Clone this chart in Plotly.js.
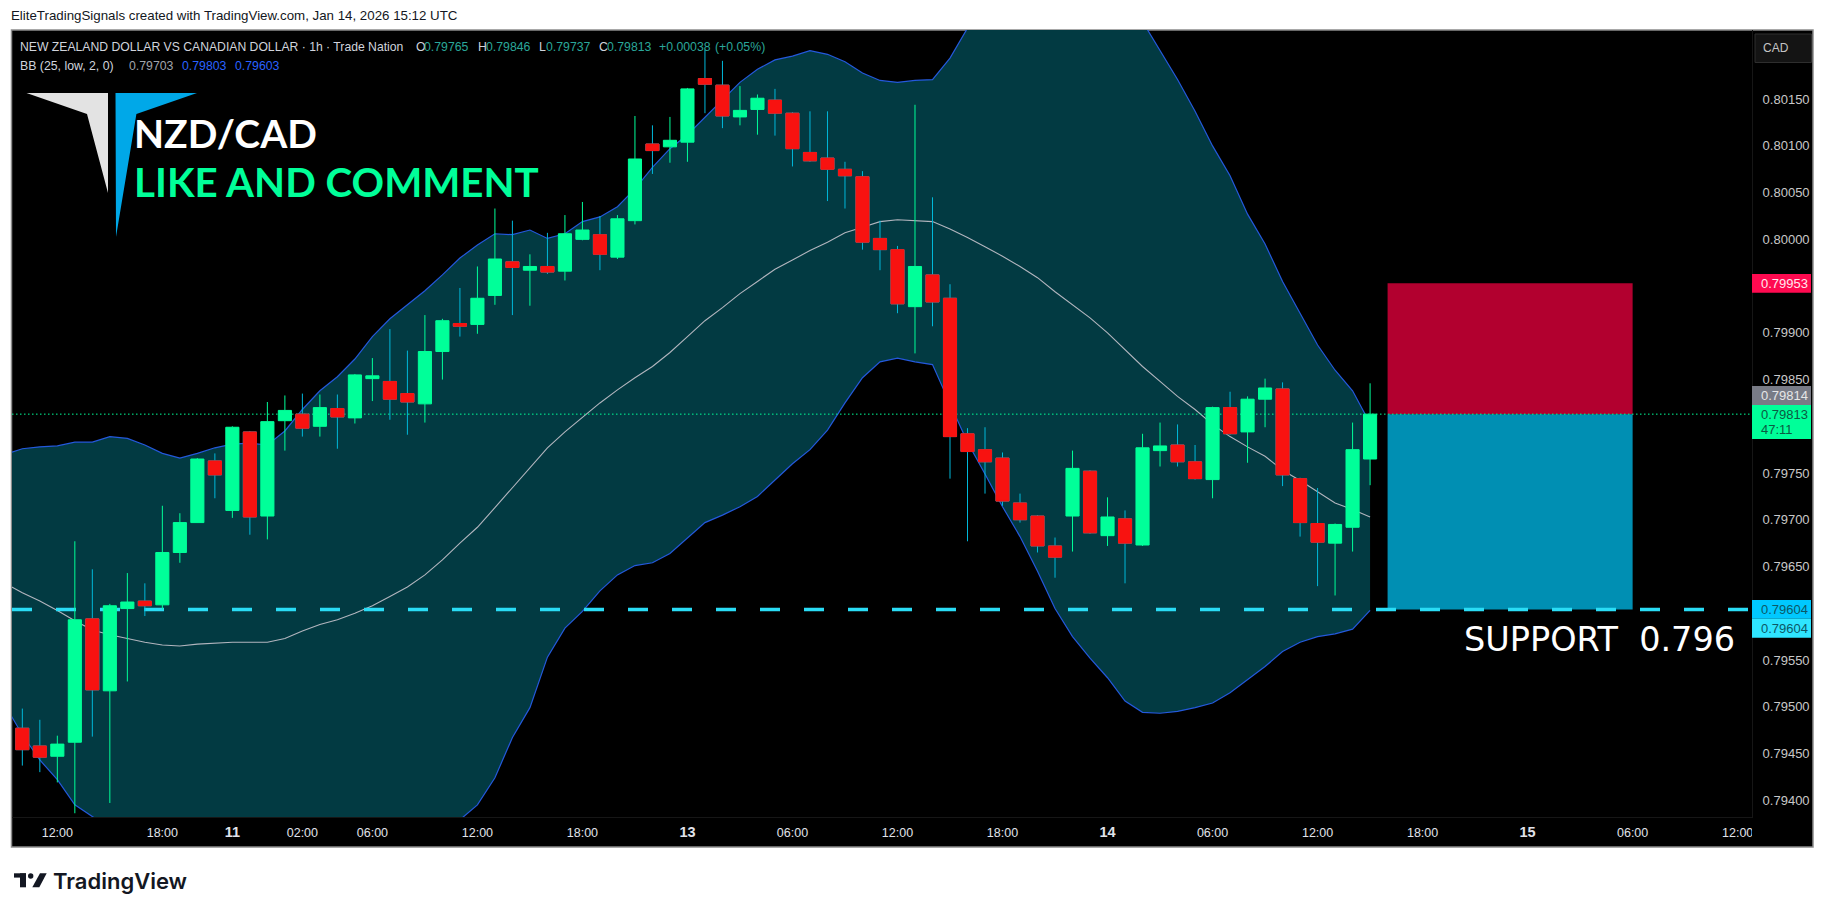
<!DOCTYPE html>
<html>
<head>
<meta charset="utf-8">
<script src="https://cdn.plot.ly/plotly-3.0.1.min.js"></script>
<style>html,body{margin:0;padding:0;background:#fff}#chart{width:1825px;height:914px}</style>
</head>
<body>
<div id="chart"></div>
<script>
// Hourly bars, NZD/CAD (index = bar number, weekend gap removed)
const open_ = [0.79477,0.79458,0.79447,0.79462,0.79594,0.79517,0.79605,0.79613,0.79609,0.79665,0.79697,0.79763,0.79710,0.79794,0.79704,0.79806,0.79813,0.79800,0.79819,0.79809,0.79851,0.79848,0.79835,0.79824,0.79880,0.79910,0.79909,0.79940,0.79976,0.79967,0.79971,0.79966,0.80000,0.80005,0.79981,0.80020,0.80102,0.80099,0.80104,0.80172,0.80165,0.80131,0.80139,0.80149,0.80135,0.80093,0.80087,0.80075,0.80067,0.80001,0.79989,0.79928,0.79962,0.79937,0.79792,0.79775,0.79766,0.79718,0.79704,0.79672,0.79704,0.79752,0.79683,0.79701,0.79673,0.79774,0.79780,0.79762,0.79743,0.79820,0.79794,0.79829,0.79840,0.79744,0.79696,0.79675,0.79692,0.79765];
const high_ = [0.79498,0.79486,0.79469,0.79677,0.79647,0.79610,0.79643,0.79632,0.79715,0.79707,0.79766,0.79771,0.79800,0.79795,0.79826,0.79833,0.79835,0.79834,0.79834,0.79856,0.79873,0.79904,0.79881,0.79919,0.79915,0.79948,0.79971,0.80033,0.80020,0.79984,0.80007,0.80026,0.80040,0.80025,0.80026,0.80132,0.80122,0.80131,0.80162,0.80203,0.80191,0.80164,0.80155,0.80161,0.80136,0.80137,0.80137,0.80083,0.80073,0.80020,0.79993,0.80144,0.80045,0.79952,0.79798,0.79799,0.79772,0.79728,0.79705,0.79681,0.79774,0.79753,0.79724,0.79710,0.79792,0.79804,0.79802,0.79780,0.79821,0.79837,0.79832,0.79851,0.79847,0.79745,0.79734,0.79696,0.79804,0.79846];
const low_ = [0.79437,0.79430,0.79419,0.79386,0.79468,0.79397,0.79527,0.79597,0.79604,0.79654,0.79697,0.79723,0.79702,0.79684,0.79679,0.79774,0.79789,0.79789,0.79776,0.79803,0.79827,0.79807,0.79791,0.79804,0.79850,0.79896,0.79899,0.79930,0.79919,0.79929,0.79963,0.79956,0.79999,0.79967,0.79979,0.80016,0.80070,0.80082,0.80083,0.80135,0.80119,0.80122,0.80112,0.80111,0.80078,0.80083,0.80041,0.80033,0.79989,0.79967,0.79921,0.79878,0.79907,0.79744,0.79677,0.79728,0.79715,0.79697,0.79665,0.79638,0.79666,0.79685,0.79672,0.79632,0.79672,0.79757,0.79757,0.79743,0.79723,0.79791,0.79761,0.79799,0.79736,0.79682,0.79629,0.79619,0.79666,0.79737];
const close_ = [0.79454,0.79446,0.79460,0.79593,0.79518,0.79608,0.79612,0.79608,0.79665,0.79697,0.79765,0.79748,0.79799,0.79703,0.79805,0.79817,0.79798,0.79820,0.79810,0.79855,0.79854,0.79829,0.79826,0.79880,0.79913,0.79907,0.79937,0.79979,0.79970,0.79971,0.79965,0.80006,0.80010,0.79984,0.80022,0.80086,0.80095,0.80106,0.80161,0.80166,0.80132,0.80138,0.80151,0.80135,0.80097,0.80084,0.80075,0.80068,0.79997,0.79989,0.79931,0.79971,0.79933,0.79789,0.79773,0.79762,0.79720,0.79700,0.79672,0.79660,0.79755,0.79686,0.79703,0.79675,0.79777,0.79779,0.79762,0.79744,0.79820,0.79792,0.79829,0.79841,0.79748,0.79697,0.79676,0.79695,0.79775,0.79813];

// Bollinger Bands (25, low, 2, 0); first value is the bar before the first visible one
const bbUpper = [0.79770,0.79776,0.79778,0.79779,0.79783,0.79783,0.79789,0.79787,0.79780,0.79771,0.79766,0.79771,0.79777,0.79781,0.79782,0.79780,0.79795,0.79818,0.79838,0.79853,0.79872,0.79896,0.79915,0.79930,0.79945,0.79962,0.79980,0.79994,0.80006,0.80005,0.80010,0.80001,0.80006,0.80019,0.80024,0.80035,0.80054,0.80077,0.80097,0.80112,0.80131,0.80150,0.80168,0.80182,0.80192,0.80196,0.80202,0.80198,0.80190,0.80178,0.80170,0.80168,0.80170,0.80171,0.80194,0.80226,0.80256,0.80283,0.80304,0.80315,0.80320,0.80320,0.80310,0.80294,0.80265,0.80233,0.80202,0.80171,0.80137,0.80100,0.80068,0.80027,0.79995,0.79955,0.79921,0.79887,0.79860,0.79838,0.79803];
const bbMiddle = [0.79632,0.79622,0.79613,0.79603,0.79592,0.79582,0.79577,0.79573,0.79569,0.79566,0.79565,0.79567,0.79568,0.79569,0.79569,0.79569,0.79573,0.79581,0.79588,0.79593,0.79600,0.79608,0.79618,0.79628,0.79641,0.79657,0.79675,0.79692,0.79713,0.79734,0.79756,0.79777,0.79794,0.79810,0.79825,0.79839,0.79852,0.79864,0.79879,0.79896,0.79913,0.79927,0.79942,0.79955,0.79968,0.79978,0.79988,0.79997,0.80007,0.80013,0.80019,0.80021,0.80020,0.80019,0.80011,0.80002,0.79992,0.79982,0.79971,0.79959,0.79944,0.79930,0.79916,0.79900,0.79882,0.79864,0.79848,0.79832,0.79818,0.79802,0.79789,0.79778,0.79768,0.79753,0.79742,0.79730,0.79718,0.79711,0.79703];
const bbLower = [0.79502,0.79470,0.79443,0.79422,0.79395,0.79382,0.79370,0.79355,0.79345,0.79335,0.79330,0.79325,0.79322,0.79320,0.79320,0.79322,0.79325,0.79330,0.79335,0.79340,0.79345,0.79350,0.79355,0.79360,0.79365,0.79370,0.79379,0.79395,0.79424,0.79467,0.79499,0.79553,0.79584,0.79602,0.79624,0.79641,0.79651,0.79654,0.79664,0.79681,0.79697,0.79705,0.79714,0.79725,0.79743,0.79760,0.79775,0.79796,0.79825,0.79852,0.79869,0.79873,0.79869,0.79866,0.79824,0.79783,0.79749,0.79714,0.79682,0.79645,0.79605,0.79575,0.79552,0.79531,0.79506,0.79494,0.79493,0.79495,0.79499,0.79504,0.79515,0.79529,0.79543,0.79559,0.79569,0.79575,0.79578,0.79583,0.79603];

// Levels
const lastPrice = 0.79813;
const supportLevel = 0.79604;
const stopLevel = 0.79953;
const tradeStartBar = 78, tradeEndBar = 92;

// Axis ticks
const bigDay = d => '<span style="font-size:14.5px"><b>'+d+'</b></span>';
const xTickBars = [2,8,12,16,20,26,32,38,44,50,56,62,68,74,80,86,92,98];
const xTickLabels = ['12:00','18:00',bigDay('11'),'02:00','06:00','12:00','18:00',bigDay('13'),'06:00','12:00','18:00',bigDay('14'),'06:00','12:00','18:00',bigDay('15'),'06:00','12:00'];
const yTickValues = [0.8015,0.801,0.8005,0.8,0.799,0.7985,0.7975,0.797,0.7965,0.7955,0.795,0.7945,0.794];
const yTickLabels = ['0.80150','0.80100','0.80050','0.80000','0.79900','0.79850','0.79750','0.79700','0.79650','0.79550','0.79500','0.79450','0.79400'];

// Page geometry
const PW=1825, PH=914, L=12, T=30, R=1752, B=817;
const px = v => (v-L)/(R-L), py = v => 1-(v-T)/(B-T);
const bars = open_.map((_,i)=>i);
const bandX = bbUpper.map((_,i)=>i-1);
const xEdges = [-0.59, 98.82];
const yEdges = [0.79382, 0.80224];

const GREEN='#00FF99', RED='#F81210', WICK='#00B8D9', BAND='#023A42', BANDLINE='#2459DC';
const redIdx = bars.filter(i=>close_[i]<open_[i]);

const traces = [
  {type:'scatter',mode:'lines',x:bandX,y:bbLower,line:{color:BANDLINE,width:1.2},hoverinfo:'skip'},
  {type:'scatter',mode:'lines',x:bandX,y:bbUpper,line:{color:BANDLINE,width:1.2},fill:'tonexty',fillcolor:BAND,hoverinfo:'skip'},
  {type:'scatter',mode:'lines',x:bandX,y:bbMiddle,line:{color:'#B2B5BE',width:1.1},hoverinfo:'skip'},
  {type:'scatter',mode:'lines',x:xEdges,y:[supportLevel,supportLevel],line:{color:'#2ADCF5',width:3.4,dash:'20px,24px'},hoverinfo:'skip'},
  {type:'scatter',mode:'lines',x:xEdges,y:[lastPrice,lastPrice],line:{color:GREEN,width:1,dash:'1.5px,2.5px'},hoverinfo:'skip'},
  // candles sit on overlaying axes so that they are drawn above the band fill
  {type:'candlestick',xaxis:'x2',yaxis:'y2',x:bars,open:open_,high:high_,low:low_,close:close_,whiskerwidth:0,
    increasing:{line:{color:GREEN,width:1},fillcolor:GREEN},
    decreasing:{line:{color:WICK,width:1},fillcolor:WICK},hoverinfo:'skip'},
  // red bodies over the cyan wicks of the falling bars
  {type:'candlestick',xaxis:'x2',yaxis:'y2',x:redIdx,open:redIdx.map(i=>open_[i]),close:redIdx.map(i=>close_[i]),
    high:redIdx.map(i=>open_[i]),low:redIdx.map(i=>close_[i]),whiskerwidth:0,
    increasing:{line:{color:RED,width:1},fillcolor:RED},
    decreasing:{line:{color:RED,width:1},fillcolor:RED},hoverinfo:'skip'}
];

const rectPx=(x0,y0,x1,y1,fill,layer,line)=>({type:'rect',xref:'paper',yref:'paper',x0:px(x0),x1:px(x1),y0:py(y0),y1:py(y1),
  fillcolor:fill,layer:layer||'above',line:line||{width:0}});
const polyPx=(pts,fill)=>({type:'path',xref:'paper',yref:'paper',layer:'above',fillcolor:fill,line:{width:0},
  path:'M'+pts.map(p=>px(p[0])+','+py(p[1])).join(' L')+' Z'});

const shapes = [
  rectPx(11.5,30,1813,847,'#000000','below',{color:'#8C8C8C',width:1.5}),
  {type:'rect',xref:'x',yref:'y',x0:tradeStartBar,x1:tradeEndBar,y0:lastPrice,y1:stopLevel,fillcolor:'#B2002F',line:{width:0},layer:'below'},
  {type:'rect',xref:'x',yref:'y',x0:tradeStartBar,x1:tradeEndBar,y0:supportLevel,y1:lastPrice,fillcolor:'#008FB3',line:{width:0},layer:'below'},
  // hides the part of the last time label that runs under the price scale
  rectPx(1752,818,1812,846,'#000000','above'),
  // logo
  polyPx([[26.5,93],[108,93],[108,193],[87,114]],'#E3E3E3'),
  polyPx([[115.5,93],[197,93],[136.4,114],[116,237]],'#00A8E8'),
  // price scale tags
  rectPx(1755,34,1811.5,62.5,'#141414','above',{color:'#2E2E2E',width:1}),
  rectPx(1752,274,1811,292.7,'#FF0A50'),
  rectPx(1752,386,1811,405,'#787B86'),
  rectPx(1752,405,1811,439,GREEN),
  rectPx(1752,600,1811,618.7,'#00C8FF'),
  rectPx(1752,618.7,1811,637.7,'#2FE5FF'),
  // TradingView mark
  rectPx(14,873.3,26,877.6,'#131722'),
  rectPx(20,873.3,26,887.3,'#131722'),
  {type:'circle',xref:'paper',yref:'paper',layer:'above',fillcolor:'#131722',line:{width:0},x0:px(28),x1:px(33.4),y0:py(873.3),y1:py(878.7)},
  polyPx([[40,873.3],[46.7,873.3],[39.3,887.3],[32.3,887.3]],'#131722')
];

const SMALL='Liberation Sans';
const txt=(x,y,text,size,color,extra)=>Object.assign({xref:'paper',yref:'paper',x:px(x),y:py(y),text:text,showarrow:false,
  xanchor:'left',yanchor:'middle',borderpad:0,font:{family:SMALL,size:size,color:color}},extra||{});
const VAL='#2AA79A', LAB='#D1D4DC', SCALE_DARK='#0C5866';
const annotations = [
  txt(10,16,'EliteTradingSignals created with TradingView.com, Jan 14, 2026 15:12 UTC',13.3,'#131722'),
  txt(19,46.7,'NEW ZEALAND DOLLAR VS CANADIAN DOLLAR · 1h · Trade Nation',12.2,LAB),
  txt(414.5,46.7,'O',12.3,LAB), txt(422.5,46.7,'0.79765',12.3,VAL),
  txt(476.5,46.7,'H',12.3,LAB), txt(484.5,46.7,'0.79846',12.3,VAL),
  txt(537.5,46.7,'L',12.3,LAB), txt(544.5,46.7,'0.79737',12.3,VAL),
  txt(597.5,46.7,'C',12.3,LAB), txt(605.5,46.7,'0.79813',12.3,VAL),
  txt(657.5,46.7,'+0.00038',12.3,VAL), txt(713.5,46.7,'(+0.05%)',12.3,VAL),
  txt(19,65.7,'BB (25, low, 2, 0)',12.3,LAB),
  txt(128.2,65.7,'0.79703',12.3,'#A0A4AC'), txt(181.2,65.7,'0.79803',12.3,'#2962FF'), txt(234.2,65.7,'0.79603',12.3,'#2962FF'),
  txt(133,133,'<b>NZD/CAD</b>',39,'#FFFFFF',{font:{family:'Lato',size:39,color:'#FFFFFF'}}),
  txt(133,181,'<b>LIKE AND COMMENT</b>',40.3,GREEN,{font:{family:'Lato',size:40.3,color:GREEN}}),
  txt(1462.5,639,'SUPPORT  0.796',33.5,'#FFFFFF',{font:{family:'DejaVu Sans',size:33.5,color:'#FFFFFF'}}),
  txt(1762,48.3,'CAD',12,'#C4C4C4'),
  txt(1759.5,283,'0.79953',13,'#FFE8EE'),
  txt(1759.5,395.5,'0.79814',13,'#E6E6E6'),
  txt(1759.5,414.7,'0.79813',13,'#0B5A42'),
  txt(1759.5,429.3,'47:11',13,'#0B5A42'),
  txt(1759.5,609.5,'0.79604',13,SCALE_DARK),
  txt(1759.5,628.5,'0.79604',13,SCALE_DARK),
  txt(52,881,'TradingView',22,'#131722',{font:{family:'Inter',size:22,weight:600,color:'#131722'}})
];

const layout = {
  width:PW,height:PH,autosize:false,showlegend:false,
  paper_bgcolor:'#FFFFFF',plot_bgcolor:'rgba(0,0,0,0)',
  margin:{l:L,r:PW-R,t:T,b:PH-B,autoexpand:false,pad:0},
  boxgap:0.25,boxgroupgap:0,
  xaxis:{type:'linear',range:xEdges,rangeslider:{visible:false},showgrid:false,zeroline:false,
    tickmode:'array',tickvals:xTickBars,ticktext:xTickLabels,ticks:'outside',ticklen:3.5,tickcolor:'rgba(0,0,0,0)',
    tickfont:{family:SMALL,size:12.5,color:'#E0E3EB'},showline:true,linecolor:'#161616',linewidth:1},
  yaxis:{type:'linear',range:yEdges,side:'right',showgrid:false,zeroline:false,
    tickmode:'array',tickvals:yTickValues,ticktext:yTickLabels,ticks:'outside',ticklen:7,tickcolor:'rgba(0,0,0,0)',
    tickfont:{family:SMALL,size:13,color:'#C8C8C8'},showline:true,linecolor:'#161616',linewidth:1},
  xaxis2:{type:'linear',overlaying:'x',range:xEdges,rangeslider:{visible:false},visible:false},
  yaxis2:{type:'linear',overlaying:'y',range:yEdges,side:'right',visible:false},
  shapes:shapes,annotations:annotations
};
Plotly.newPlot('chart',traces,layout,{staticPlot:true,displayModeBar:false});
</script>
</body>
</html>
